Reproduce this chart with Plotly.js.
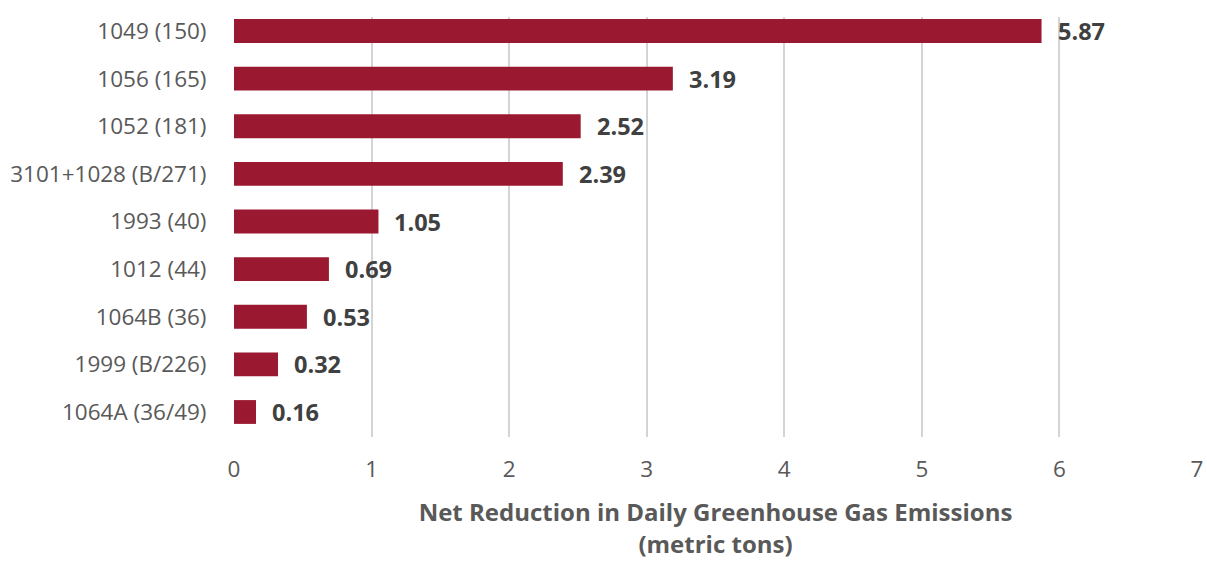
<!DOCTYPE html>
<html><head><meta charset="utf-8">
<script src="https://cdn.plot.ly/plotly-3.0.1.min.js"></script>
<style>html,body{margin:0;padding:0;background:#fff;}#chart{width:1207px;height:563px;}</style>
</head><body><div id="chart"></div>
<script>
const categories = ["1049 (150)","1056 (165)","1052 (181)","3101+1028 (B/271)","1993 (40)","1012 (44)","1064B (36)","1999 (B/226)","1064A (36/49)"];
const values = [5.87, 3.19, 2.52, 2.39, 1.05, 0.69, 0.53, 0.32, 0.16];
const xTitle = "Net Reduction in Daily Greenhouse Gas Emissions<br>(metric tons)";

const trace = {
  type: 'bar', orientation: 'h',
  x: values, y: categories,
  marker: {color: '#9B1930'},
  width: 0.5,
  hoverinfo: 'none'
};
const annotations = values.map((v, i) => ({
  x: v, y: categories[i], xref: 'x', yref: 'y',
  text: v.toFixed(2), showarrow: false, xanchor: 'left', xshift: 14,
  font: {family: 'Open Sans, sans-serif', size: 23.5, color: '#404040', weight: 'bold'}
}));
const layout = {
  width: 1207, height: 563,
  margin: {l: 234, r: 10, t: 17, b: 126},
  paper_bgcolor: '#fff', plot_bgcolor: '#fff',
  showlegend: false,
  font: {family: 'Open Sans, sans-serif', color: '#595959'},
  xaxis: {
    range: [0, 7], dtick: 1, tick0: 0,
    showgrid: true, gridcolor: '#d4d4d4', gridwidth: 2,
    zeroline: false, showline: false,
    ticks: 'outside', ticklen: 12, tickcolor: 'rgba(0,0,0,0)',
    tickfont: {size: 22.5, color: '#595959'},
    title: {text: xTitle, font: {size: 24, color: '#595959', weight: 'bold'}, standoff: 21}
  },
  yaxis: {
    type: 'category', range: [8.525, -0.294],
    showgrid: false, zeroline: false, showline: false,
    ticks: 'outside', ticklen: 22, tickcolor: 'rgba(0,0,0,0)',
    tickfont: {size: 22.5, color: '#595959'}
  },
  annotations: annotations
};
Plotly.newPlot('chart', [trace], layout, {displayModeBar: false, staticPlot: true});
</script></body></html>
